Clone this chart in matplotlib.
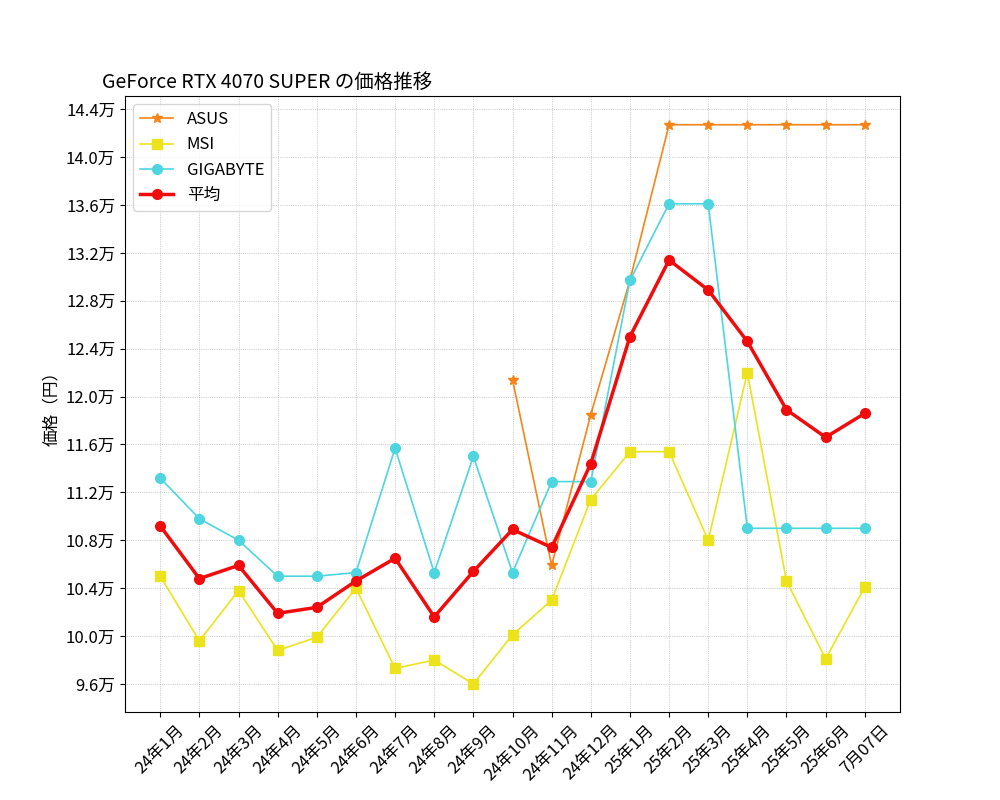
import numpy as np
import matplotlib.pyplot as plt
from matplotlib.ticker import FuncFormatter

plt.rcParams['font.family'] = 'Noto Sans CJK JP'

months = ['24年1月', '24年2月', '24年3月', '24年4月', '24年5月', '24年6月', '24年7月',
          '24年8月', '24年9月', '24年10月', '24年11月', '24年12月', '25年1月', '25年2月',
          '25年3月', '25年4月', '25年5月', '25年6月', '7月07日']

nan = np.nan
asus = [nan, nan, nan, nan, nan, nan, nan, nan, nan, 121400, 105900, 118500, 129700,
        142700, 142700, 142700, 142700, 142700, 142700]
msi = [105000, 99600, 103800, 98800, 99900, 104000, 97300, 98000, 96000, 100100, 103000,
       111400, 115400, 115400, 108000, 122000, 104600, 98100, 104100]
gigabyte = [113200, 109800, 108000, 105000, 105000, 105300, 115700, 105300, 115000, 105300,
            112900, 112900, 129700, 136100, 136100, 109000, 109000, 109000, 109000]
average = [109200, 104800, 105900, 101900, 102400, 104600, 106500, 101600, 105400, 108900,
           107400, 114400, 125000, 131400, 128900, 124600, 118900, 116600, 118600]

fig, ax = plt.subplots(figsize=(10, 8), dpi=100)
fig.subplots_adjust(left=0.125, right=0.9, top=0.88, bottom=0.11)
x = np.arange(len(months))
ax.plot(x, asus, marker='*', color='#f58518', lw=1.2, ms=7, label='ASUS')
ax.plot(x, msi, marker='s', color='#ece31c', lw=1.2, ms=7, label='MSI')
ax.plot(x, gigabyte, marker='o', color='#4dd5e0', lw=1.2, ms=7, label='GIGABYTE')
ax.plot(x, average, marker='o', color='#f00c0c', lw=2.5, ms=7, label='平均')

ax.set_ylim(93660, 145100)
ax.set_yticks(np.arange(96000, 144001, 4000))
ax.yaxis.set_major_formatter(FuncFormatter(lambda v, p: f'{v/10000:.1f}万'))
ax.set_xticks(x)
ax.set_xticklabels(months, rotation=45, fontsize=12)
ax.tick_params(axis='y', labelsize=12)
ax.set_ylabel('価格（円）', fontsize=12)
ax.set_title('GeForce RTX 4070 SUPER の価格推移', loc='left', fontsize=14, x=-0.03)
ax.grid(True, color='gray', lw=0.5, ls=':', alpha=0.7)
ax.legend(loc='upper left', fontsize=12)
fig.savefig('out.png')
